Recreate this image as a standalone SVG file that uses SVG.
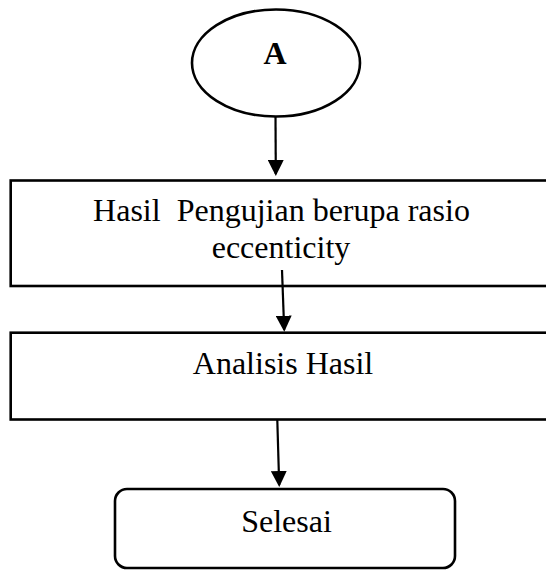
<svg xmlns="http://www.w3.org/2000/svg" width="546" height="570" viewBox="0 0 546 570">
  <defs>
    <marker id="arrow" markerUnits="userSpaceOnUse" markerWidth="16" markerHeight="16" refX="14" refY="8" orient="auto">
      <path d="M0,0 L16,8 L0,16 z" fill="#000"/>
    </marker>
    <style>
      .shape { fill: #fff; stroke: #000; stroke-width: 2.6; }
      .label { font-family: "Liberation Serif", "Times New Roman", serif; font-size: 32px; fill: #000; text-anchor: middle; white-space: pre; }
      .bold { font-weight: bold; }
      .conn { stroke: #000; stroke-width: 2.2; fill: none; marker-end: url(#arrow); }
    </style>
  </defs>

  <rect width="546" height="570" fill="#fff"/>

  <!-- Connector A -->
  <g id="node-a">
    <ellipse class="shape" cx="276" cy="63" rx="84" ry="53.5"/>
    <text class="label bold" x="275" y="64">A</text>
  </g>

  <!-- Test result -->
  <g id="node-hasil-pengujian">
    <rect class="shape" x="10.7" y="180.5" width="560" height="105.5"/>
    <text class="label" x="281.5" y="221">Hasil  Pengujian berupa rasio</text>
    <text class="label" x="281" y="258">eccenticity</text>
  </g>

  <!-- Analysis -->
  <g id="node-analisis">
    <rect class="shape" x="10.7" y="332.7" width="560" height="86.8"/>
    <text class="label" x="283" y="374">Analisis Hasil</text>
  </g>

  <!-- End -->
  <g id="node-selesai">
    <rect class="shape" x="115" y="489" width="340" height="79" rx="12" ry="12"/>
    <text class="label" x="286.5" y="532">Selesai</text>
  </g>

  <g id="connectors">
    <line class="conn" x1="275.5" y1="116.5" x2="275.8" y2="174"/>
    <line class="conn" x1="282" y1="270" x2="284.2" y2="329.7"/>
    <line class="conn" x1="277.3" y1="420" x2="279.2" y2="485"/>
  </g>
</svg>
